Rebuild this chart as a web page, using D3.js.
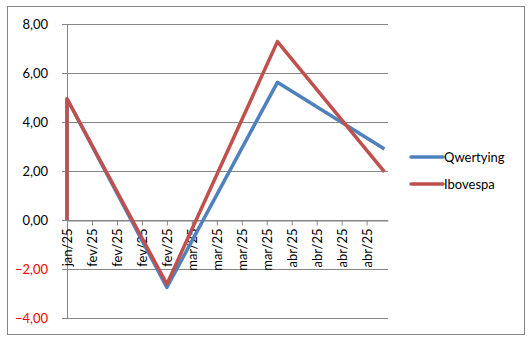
<!DOCTYPE html>
<html>
<head>
<meta charset="utf-8">
<script src="https://cdn.jsdelivr.net/npm/d3@7"></script>
<style>
  body { margin: 0; background: #fff; }
  text { font-family: Lato, "Open Sans", sans-serif; }
</style>
</head>
<body>
<svg width="531" height="341"></svg>
<script>
// dados
var seriesNames = ["Qwertying", "Ibovespa"];
var seriesColors = ["#4F81BD", "#C0504D"];
var dates = ["2025-01-31", "2025-01-31", "2025-02-28", "2025-03-31", "2025-04-30"];
var qwertying = [0, 4.95, -2.75, 5.62, 2.9];
var ibovespa = [0, 4.95, -2.62, 7.28, 1.96];
var yTicks = [-4, -2, 0, 2, 4, 6, 8];

var svg = d3.select("svg"),
  width = +svg.attr("width"),
  height = +svg.attr("height");

// moldura
svg.append("rect")
  .attr("x", 7.5).attr("y", 6.5)
  .attr("width", 517).attr("height", 328)
  .attr("fill", "#fff")
  .attr("stroke", "#868686");

var pt = d3.timeFormatLocale({
  dateTime: "%d/%m/%Y %H:%M:%S", date: "%d/%m/%Y", time: "%H:%M:%S",
  periods: ["AM", "PM"],
  days: ["domingo", "segunda", "terça", "quarta", "quinta", "sexta", "sábado"],
  shortDays: ["dom", "seg", "ter", "qua", "qui", "sex", "sáb"],
  months: ["janeiro", "fevereiro", "março", "abril", "maio", "junho", "julho", "agosto", "setembro", "outubro", "novembro", "dezembro"],
  shortMonths: ["jan", "fev", "mar", "abr", "mai", "jun", "jul", "ago", "set", "out", "nov", "dez"]
});
var fmtX = pt.utcFormat("%b/%y");
var parse = d3.utcParse("%Y-%m-%d");

var x = d3.scaleUtc()
  .domain([parse("2025-01-31"), parse("2025-05-01")])
  .range([67, 388]);
var y = d3.scaleLinear().domain([-4, 8]).range([318, 24]);

// linhas de grade
svg.append("g")
  .selectAll("line")
  .data(yTicks)
  .enter().append("line")
  .attr("x1", 62).attr("x2", 388)
  .attr("y1", d => Math.round(y(d)) + 0.5)
  .attr("y2", d => Math.round(y(d)) + 0.5)
  .attr("stroke", "#868686");

// eixo y
svg.append("line")
  .attr("x1", 67.5).attr("x2", 67.5)
  .attr("y1", y(8)).attr("y2", y(-4))
  .attr("stroke", "#868686");

svg.append("g")
  .selectAll("text")
  .data(yTicks)
  .enter().append("text")
  .attr("x", 48)
  .attr("y", d => y(d))
  .attr("dy", "0.35em")
  .attr("text-anchor", "end")
  .style("font-size", "13px")
  .attr("fill", d => d < 0 ? "#FF0000" : "#000")
  .text(d => d3.format(".2f")(d).replace(".", ","));

// eixo x (no zero), marcas semanais
var xTicks = d3.range(13).map(i => d3.utcDay.offset(parse("2025-01-31"), i * 7));

var xAxis = svg.append("g")
  .attr("transform", "translate(0," + (Math.round(y(0)) + 0.5) + ")")
  .call(d3.axisBottom(x).tickValues(xTicks).tickFormat(fmtX).tickSize(5).tickSizeOuter(0));
xAxis.select(".domain").attr("stroke", "#868686");
xAxis.selectAll(".tick line").attr("stroke", "#868686");
xAxis.selectAll(".tick text")
  .style("font-size", "13px")
  .style("font-family", "Lato, 'Open Sans', sans-serif")
  .attr("fill", "#000")
  .attr("transform", "rotate(-90)")
  .attr("text-anchor", "end")
  .attr("x", -8)
  .attr("y", 0)
  .attr("dy", "0.35em");

// linhas das séries
var line = d3.line()
  .x(d => x(d.date))
  .y(d => y(d.value));

[qwertying, ibovespa].forEach(function (vals, i) {
  var data = vals.map((v, j) => ({date: parse(dates[j]), value: v}));
  svg.append("path")
    .datum(data)
    .attr("d", line)
    .attr("fill", "none")
    .attr("stroke", seriesColors[i])
    .attr("stroke-width", 3.5)
    .attr("stroke-linejoin", "round");
});

// legenda
var legend = svg.append("g")
  .selectAll("g")
  .data(seriesNames)
  .enter().append("g")
  .attr("transform", (d, i) => "translate(411," + (157 + i * 27) + ")");

legend.append("line")
  .attr("x1", 0).attr("x2", 32)
  .attr("stroke", (d, i) => seriesColors[i])
  .attr("stroke-width", 3.5)
  .attr("stroke-linecap", "round");

legend.append("text")
  .attr("x", 33)
  .attr("dy", "0.35em")
  .style("font-size", "13px")
  .attr("fill", "#000")
  .text(d => d);
</script>
</body>
</html>
